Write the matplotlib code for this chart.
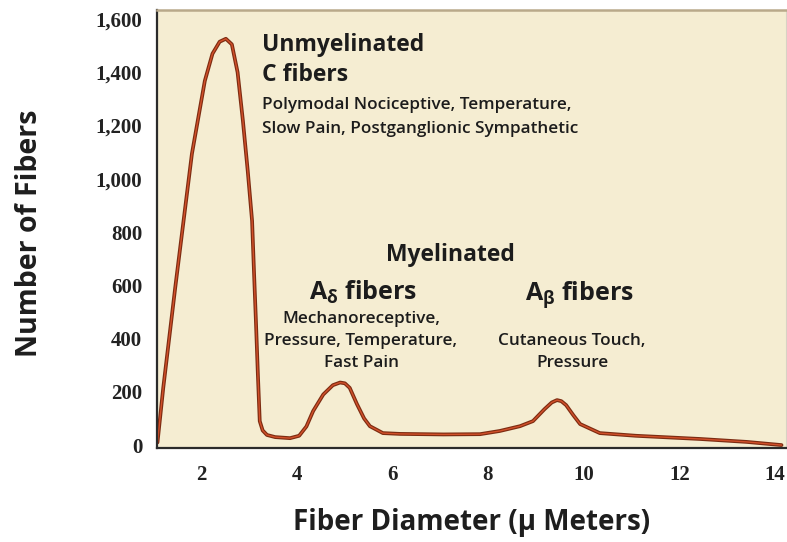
import numpy as np
import matplotlib.pyplot as plt

plt.rcParams["mathtext.default"] = "regular"

# fibre diameter (micrometres) and number of fibres
diameter = [1.09, 1.21, 1.46, 1.81, 2.08, 2.24, 2.39, 2.52, 2.645, 2.765, 2.876,
            2.977, 3.068, 3.108, 3.148, 3.188, 3.228, 3.289, 3.379, 3.55, 3.862,
            4.052, 4.204, 4.345, 4.556, 4.757, 4.908, 5.008, 5.109, 5.26, 5.41,
            5.531, 5.803, 6.165, 7.07, 7.834, 8.247, 8.669, 8.94, 9.182, 9.333,
            9.443, 9.533, 9.634, 9.785, 9.926, 10.338, 11.09, 12.43, 13.405, 14.137]
fibers = [10, 214, 590, 1094, 1368, 1470, 1515, 1526, 1505, 1400, 1218,
          1030, 842, 650, 466, 270, 90, 55, 38, 30, 26,
          35, 70, 128, 190, 225, 235, 232, 215, 154, 100,
          71, 45, 42, 40, 41, 53, 71, 90, 135, 160,
          169, 165, 150, 112, 79, 45, 35, 23, 12, 0]

xticks = [2, 4, 6, 8, 10, 12, 14]
yticks = [0, 200, 400, 600, 800, 1000, 1200, 1400, 1600]
ytick_labels = ["0", "200", "400", "600", "800", "1,000", "1,200", "1,400", "1,600"]

sans = ["Open Sans", "DejaVu Sans"]
serif = ["Liberation Serif", "DejaVu Serif"]

fig = plt.figure(figsize=(7.87, 5.42), dpi=100)
ax = fig.add_axes([0.2001, 0.1734, 0.7986, 0.8081])
ax.set_facecolor("#f5edd2")

ax.plot(diameter, fibers, color="#7d2c12", lw=2.7, solid_capstyle="round",
        solid_joinstyle="round")
ax.plot(diameter, fibers, color="#d2502a", lw=1.0, solid_capstyle="round",
        solid_joinstyle="round")

ax.set_xlim(1.09, 14.23)
ax.set_ylim(-11, 1634)
ax.set_xticks(xticks)
ax.set_yticks(yticks)
ax.set_yticklabels(ytick_labels)
ax.tick_params(length=0)
ax.tick_params(axis="y", pad=11)
ax.tick_params(axis="x", pad=12)
for lab in ax.get_xticklabels() + ax.get_yticklabels():
    lab.set_fontfamily(serif)
    lab.set_fontweight("bold")
    lab.set_fontsize(15)
    lab.set_color("#222222")

for s in ["left", "bottom"]:
    ax.spines[s].set_color("#2b2b2b")
    ax.spines[s].set_linewidth(1.6)
ax.spines["top"].set_color("#b9a98a")
ax.spines["top"].set_linewidth(1.8)
ax.spines["right"].set_color("#d8d2c4")

ax.set_xlabel("Fiber Diameter (\u03bc Meters)", fontsize=20, family=sans,
              fontweight="bold", color="#1e1e1e", va="center")
ax.xaxis.set_label_coords(0.50, -0.169)
ax.set_ylabel("Number of Fibers", fontsize=20.5, family=sans,
              fontweight="bold", color="#1e1e1e", va="center")
ax.yaxis.set_label_coords(-0.203, 0.49)

tc = "#1c1c1c"
big = dict(family=sans, fontweight="bold", color=tc, va="center")
small = dict(family=sans, fontweight="semibold", color=tc, va="center", fontsize=12.3)

ax.text(3.275, 1502, "Unmyelinated", fontsize=16.5, ha="left", **big)
ax.text(3.275, 1390, "C fibers", fontsize=16.5, ha="left", **big)
ax.text(3.275, 1277, "Polymodal Nociceptive, Temperature,", ha="left", **small)
ax.text(3.275, 1187, "Slow Pain, Postganglionic Sympathetic", ha="left", **small)

ax.text(7.21, 714, "Myelinated", fontsize=16.5, ha="center", **big)
ax.text(5.38, 575, "A$_\\delta$ fibers", fontsize=18, ha="center", **big)
ax.text(5.35, 473, "Mechanoreceptive,", ha="center", **small)
ax.text(5.33, 391, "Pressure, Temperature,", ha="center", **small)
ax.text(5.35, 308, "Fast Pain", ha="center", **small)

ax.text(9.92, 567, "A$_\\beta$ fibers", fontsize=18, ha="center", **big)
ax.text(9.76, 391, "Cutaneous Touch,", ha="center", **small)
ax.text(9.76, 308, "Pressure", ha="center", **small)

fig.savefig("out.png", dpi=100)
